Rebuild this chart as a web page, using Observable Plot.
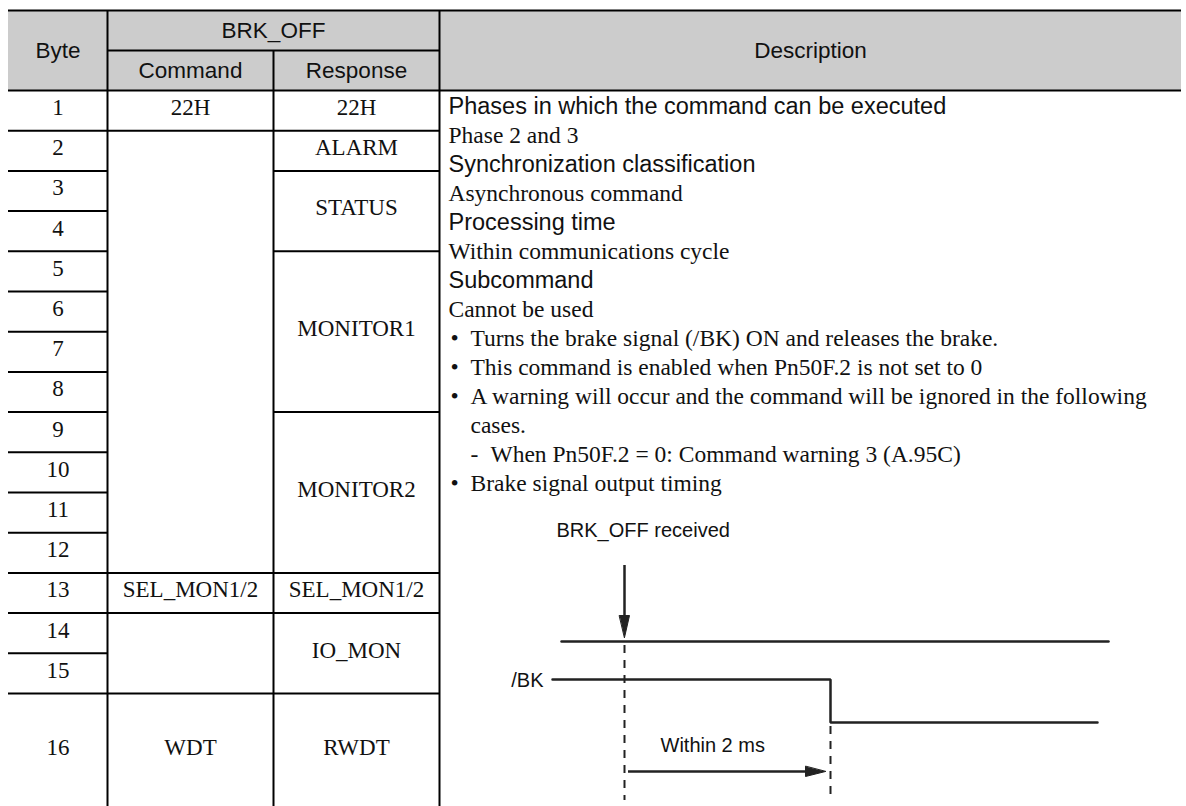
<!DOCTYPE html>
<html>
<head>
<meta charset="utf-8">
<script src="https://cdn.jsdelivr.net/npm/d3@7"></script>
<script src="https://cdn.jsdelivr.net/npm/@observablehq/plot@0.6"></script>
<style>
  html, body { margin: 0; padding: 0; background: #ffffff; }
  #chart svg { display: block; }
</style>
</head>
<body>
<div id="chart"></div>
<script>
// ---------------- DATA ----------------
const byteNumbers = [1, 2, 3, 4, 5, 6, 7, 8, 9, 10, 11, 12, 13, 14, 15, 16];

const headerGroup = "BRK_OFF";
const headerLabels = ["Byte", "Command", "Response", "Description"];

const commandLabels = ["22H", "", "SEL_MON1/2", "", "WDT"];
const commandBytes  = [[1, 1], [2, 12], [13, 13], [14, 15], [16, 16]];

const responseLabels = ["22H", "ALARM", "STATUS", "MONITOR1", "MONITOR2", "SEL_MON1/2", "IO_MON", "RWDT"];
const responseBytes  = [[1, 1], [2, 2], [3, 4], [5, 8], [9, 12], [13, 13], [14, 15], [16, 16]];

const descHeadings = [
  "Phases in which the command can be executed",
  "Synchronization classification",
  "Processing time",
  "Subcommand"
];
const descValues = [
  "Phase 2 and 3",
  "Asynchronous command",
  "Within communications cycle",
  "Cannot be used"
];
const bulletNotes = [
  "Turns the brake signal (/BK) ON and releases the brake.",
  "This command is enabled when Pn50F.2 is not set to 0",
  "A warning will occur and the command will be ignored in the following\ncases.",
  "Brake signal output timing"
];
const bulletSubItems = [[], [], ["When Pn50F.2 = 0: Command warning 3 (A.95C)"], []];

const timingLabels = ["BRK_OFF received", "/BK", "Within 2 ms"];

// ---------------- LAYOUT ----------------
const W = 1186, H = 806;
const colX = [8, 107, 273, 439, 1181];
const headerTop = 10, headerMid = 50, headerBottom = 90;
const rowH = 40.2, lastRowH = 115;
const rowTop = b => headerBottom + (b - 1) * rowH;
const rowBottom = b => b === 16 ? rowTop(16) + lastRowH : rowTop(b) + rowH;
const rowMid = b => (rowTop(b) + Math.min(rowBottom(b), 816)) / 2;

const SANS = "Liberation Sans, Arial, Helvetica, sans-serif";
const SERIF = "Liberation Serif, Times New Roman, Times, serif";

// horizontal rules
const hRules = [
  {y: headerTop, x1: colX[0], x2: colX[4]},
  {y: headerMid, x1: colX[1], x2: colX[3]},
  {y: headerBottom, x1: colX[0], x2: colX[4]}
];
byteNumbers.slice(0, -1).forEach(b => hRules.push({y: rowBottom(b), x1: colX[0], x2: colX[1]}));
commandBytes.slice(0, -1).forEach(([, to]) => hRules.push({y: rowBottom(to), x1: colX[1], x2: colX[2]}));
responseBytes.slice(0, -1).forEach(([, to]) => hRules.push({y: rowBottom(to), x1: colX[2], x2: colX[3]}));

// vertical rules
const vRules = [
  {x: colX[1], y1: headerTop, y2: H},
  {x: colX[2], y1: headerMid, y2: H},
  {x: colX[3], y1: headerTop, y2: H}
];

// header texts
const headerTexts = [
  {x: (colX[0] + colX[1]) / 2, y: (headerTop + headerBottom) / 2, t: headerLabels[0]},
  {x: (colX[1] + colX[3]) / 2, y: (headerTop + headerMid) / 2, t: headerGroup},
  {x: (colX[1] + colX[2]) / 2, y: (headerMid + headerBottom) / 2, t: headerLabels[1]},
  {x: (colX[2] + colX[3]) / 2, y: (headerMid + headerBottom) / 2, t: headerLabels[2]},
  {x: (colX[3] + colX[4]) / 2, y: (headerTop + headerBottom) / 2, t: headerLabels[3]}
];

// table cell texts
const cellTexts = [];
byteNumbers.forEach(b => cellTexts.push({x: (colX[0] + colX[1]) / 2, y: rowMid(b), t: String(b)}));
commandLabels.forEach((t, i) => {
  const [a, z] = commandBytes[i];
  cellTexts.push({x: (colX[1] + colX[2]) / 2, y: (rowMid(a) + rowMid(z)) / 2, t});
});
responseLabels.forEach((t, i) => {
  const [a, z] = responseBytes[i];
  cellTexts.push({x: (colX[2] + colX[3]) / 2, y: (rowMid(a) + rowMid(z)) / 2, t});
});

// description lines
const descX = 448, bulletX = 450, bulletTextX = 470, subDashX = 470, subTextX = 490;
const baseY = 113, pitch = 29.05;
const descSans = [], descSerif = [];
let k = 0;
descHeadings.forEach((h, i) => {
  descSans.push({x: descX, y: baseY + pitch * k++, t: h});
  descSerif.push({x: descX, y: baseY + pitch * k++, t: descValues[i]});
});
bulletNotes.forEach((n, i) => {
  const parts = n.split("\n");
  descSerif.push({x: bulletX, y: baseY + pitch * k, t: "•"});
  parts.forEach(p => descSerif.push({x: bulletTextX, y: baseY + pitch * k++, t: p}));
  bulletSubItems[i].forEach(s => {
    descSerif.push({x: subDashX, y: baseY + pitch * k, t: "-"});
    descSerif.push({x: subTextX, y: baseY + pitch * k++, t: s});
  });
});

// timing diagram geometry
const tReceived = 624, tOutput = 830;
const cmdLevel = 641, bkHigh = 679, bkLow = 722, arrowY = 771;
const cmdLine = [{x: 561, y: cmdLevel}, {x: 1108, y: cmdLevel}];
const bkLine = [
  {x: 552, y: bkHigh}, {x: tOutput, y: bkHigh},
  {x: tOutput, y: bkLow}, {x: 1097, y: bkLow}
];
const solidVert = [{x: tReceived, y1: 565, y2: 620}];
const dashVert = [
  {x: tReceived, y1: cmdLevel + 4, y2: 800},
  {x: tOutput, y1: bkLow + 4, y2: 800}
];
const arrowShaft = [{y: arrowY, x1: tReceived + 4, x2: tOutput - 20}];
const heads = [
  {id: "down", x: tReceived - 5, y: 615}, {id: "down", x: tReceived + 5, y: 615}, {id: "down", x: tReceived, y: 637},
  {id: "right", x: tOutput - 25, y: arrowY - 5}, {id: "right", x: tOutput - 25, y: arrowY + 5}, {id: "right", x: tOutput - 5, y: arrowY}
];
const diagTexts = [
  {x: 556, y: 536, t: timingLabels[0], a: "start"},
  {x: 543, y: 686, t: timingLabels[1], a: "end"},
  {x: 660, y: 751, t: timingLabels[2], a: "start"}
];

// ---------------- PLOT ----------------
const chart = Plot.plot({
  width: W,
  height: H,
  margin: 0,
  x: {domain: [0, W], range: [0, W], axis: null},
  y: {domain: [0, H], range: [0, H], axis: null},
  style: {background: "#ffffff", color: "#000000"},
  marks: [
    Plot.rect([{x1: colX[0], x2: colX[4], y1: headerTop, y2: headerBottom}], {x1: "x1", x2: "x2", y1: "y1", y2: "y2", fill: "#cccccc"}),
    Plot.ruleY(hRules, {y: "y", x1: "x1", x2: "x2", stroke: "#000", strokeWidth: 2}),
    Plot.ruleX(vRules, {x: "x", y1: "y1", y2: "y2", stroke: "#000", strokeWidth: 2}),
    Plot.text(headerTexts, {x: "x", y: "y", text: "t", fontFamily: SANS, fontSize: 22.5, fill: "#111"}),
    Plot.text(cellTexts, {x: "x", y: "y", text: "t", fontFamily: SERIF, fontSize: 23, dy: -3, fill: "#111"}),
    Plot.text(descSans, {x: "x", y: "y", text: "t", fontFamily: SANS, fontSize: 23.5, textAnchor: "start", lineAnchor: "bottom", fill: "#111"}),
    Plot.text(descSerif, {x: "x", y: "y", text: "t", fontFamily: SERIF, fontSize: 23.5, textAnchor: "start", lineAnchor: "bottom", fill: "#111"}),
    // timing diagram
    Plot.line(cmdLine, {x: "x", y: "y", stroke: "#222", strokeWidth: 2.5}),
    Plot.line(bkLine, {x: "x", y: "y", stroke: "#222", strokeWidth: 2.5, strokeLinejoin: "miter"}),
    Plot.ruleX(solidVert, {x: "x", y1: "y1", y2: "y2", stroke: "#222", strokeWidth: 2.5}),
    Plot.ruleX(dashVert, {x: "x", y1: "y1", y2: "y2", stroke: "#222", strokeWidth: 2, strokeDasharray: "8,7"}),
    Plot.ruleY(arrowShaft, {y: "y", x1: "x1", x2: "x2", stroke: "#222", strokeWidth: 2.5}),
    Plot.line(heads, {x: "x", y: "y", z: "id", curve: "linear-closed", fill: "#222", stroke: "#222", strokeWidth: 1}),
    Plot.text(diagTexts.filter(d => d.a === "start"), {x: "x", y: "y", text: "t", fontFamily: SANS, fontSize: 20, textAnchor: "start", lineAnchor: "bottom", fill: "#111"}),
    Plot.text(diagTexts.filter(d => d.a === "end"), {x: "x", y: "y", text: "t", fontFamily: SANS, fontSize: 20, textAnchor: "end", lineAnchor: "bottom", fill: "#111"})
  ]
});
document.getElementById("chart").appendChild(chart);
</script>
</body>
</html>
